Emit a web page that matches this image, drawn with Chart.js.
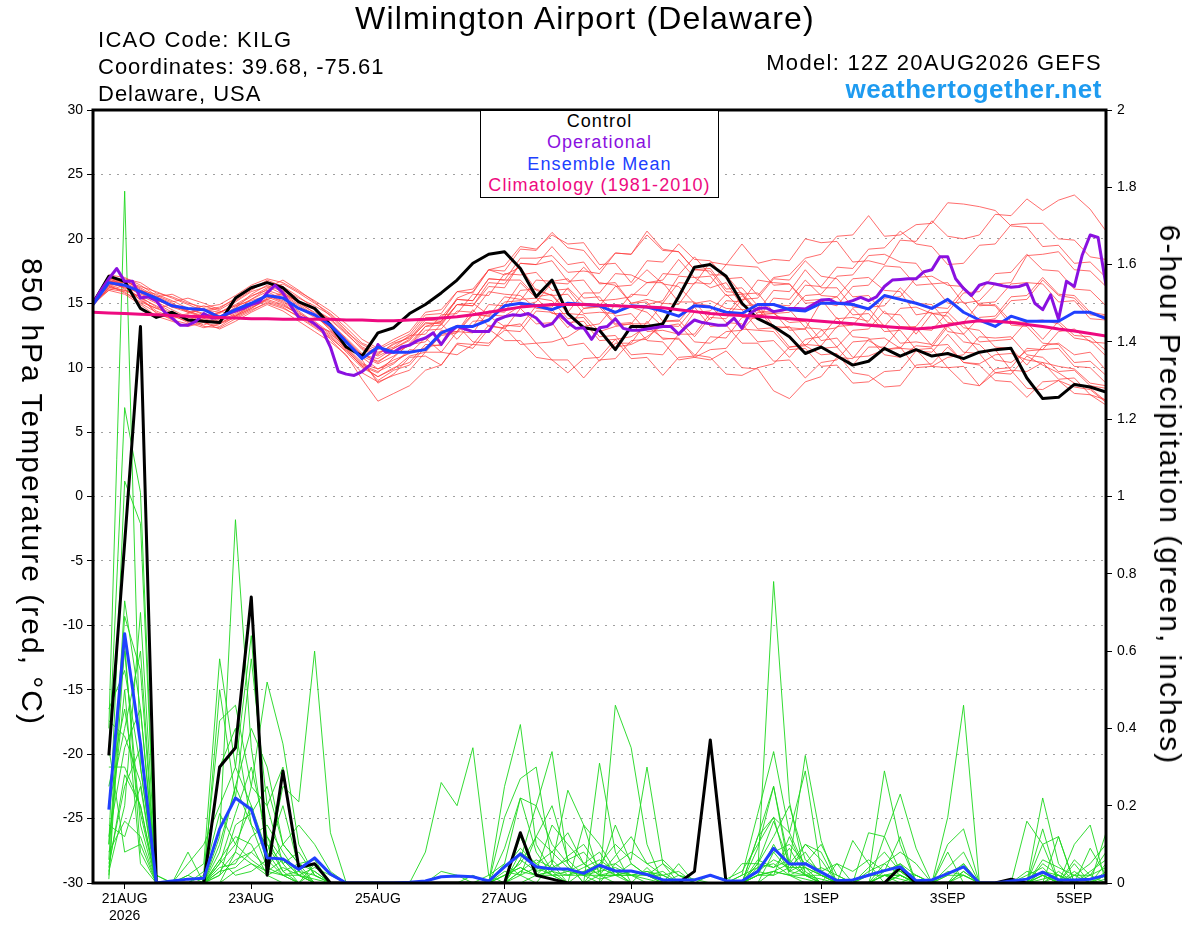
<!DOCTYPE html>
<html>
<head>
<meta charset="utf-8">
<script src="https://cdn.jsdelivr.net/npm/chart.js@4.4.1/dist/chart.umd.min.js"></script>
<style>
body { margin: 0; background: #fff; font-family: "Liberation Sans", Arial, sans-serif; }
#wrap { position: relative; width: 1200px; height: 927px; overflow: hidden; }
#c { position: absolute; left: 0; top: 0; }
.t { position: absolute; white-space: nowrap; line-height: 1; color: #000; letter-spacing: 1px; }
#legend { position: absolute; left: 480px; top: 110px; width: 237px; height: 86px; border: 1px solid #000; background: #fff; }
#legend div { position: absolute; left: 0; width: 100%; text-align: center; font-size: 18px; line-height: 1; letter-spacing: 1.1px; white-space: nowrap; }
.vt { position: absolute; white-space: nowrap; line-height: 1; font-size: 30px; letter-spacing: 2px; transform: translate(-50%, -50%) rotate(90deg); }
</style>
</head>
<body>
<div id="wrap">
  <canvas id="c" width="1200" height="927"></canvas>
  <div class="t" style="left:0;width:1170px;text-align:center;top:2px;font-size:32px;letter-spacing:1.2px">Wilmington Airport (Delaware)</div>
  <div class="t" style="left:98px;top:29px;font-size:22px;letter-spacing:1.3px">ICAO Code: KILG</div>
  <div class="t" style="left:98px;top:56px;font-size:22px">Coordinates: 39.68, -75.61</div>
  <div class="t" style="left:98px;top:83px;font-size:22px">Delaware, USA</div>
  <div class="t" style="right:98px;top:52px;font-size:22px;letter-spacing:1.3px">Model: 12Z 20AUG2026 GEFS</div>
  <div class="t" style="right:98px;top:76px;font-size:26px;font-weight:bold;color:#1e9bf0;letter-spacing:0.5px">weathertogether.net</div>
  <div id="legend">
    <div style="top:1px;color:#000">Control</div>
    <div style="top:22px;color:#8a10e0">Operational</div>
    <div style="top:44px;color:#2040ff">Ensemble Mean</div>
    <div style="top:65px;color:#ee0a80">Climatology (1981-2010)</div>
  </div>
  <div class="vt" style="left:32px;top:492px">850 hPa Temperature (red, °C)</div>
  <div class="vt" style="left:1170px;top:495px">6-hour Precipitation (green, inches)</div>
</div>
<script>
// x axis: forecast hours from 12Z 20AUG2026
var xTickHours = [12, 60, 108, 156, 204, 276, 324, 372];
var xTickLabels = [['21AUG', '2026'], '23AUG', '25AUG', '27AUG', '29AUG', '1SEP', '3SEP', '5SEP'];

// 850 hPa temperature, every 6 h (65 values)
var tempControl = [
  15.0,17.1,16.7,14.6,13.9,14.3,13.7,13.6,13.5,15.4,
  16.2,16.6,16.2,15.1,14.6,13.3,11.6,10.9,12.7,13.1,
  14.2,14.9,15.8,16.8,18.1,18.8,19.0,17.7,15.5,16.8,
  14.2,13.1,12.9,11.4,13.2,13.2,13.4,15.5,17.8,18.0,
  17.1,15.0,13.8,13.2,12.4,11.1,11.6,10.9,10.2,10.5,
  11.5,10.9,11.4,10.9,11.1,10.7,11.2,11.4,11.5,9.2,
  7.6,7.7,8.7,8.5,8.1];
var tempMean = [
  14.9,16.6,16.4,15.9,15.4,14.8,14.6,14.5,13.9,14.5,
  15.0,15.6,15.4,14.6,14.1,13.3,12.0,10.7,11.6,11.2,
  11.2,11.4,12.7,13.2,13.2,13.7,14.8,15.0,14.8,14.5,
  15.0,14.9,14.8,14.3,14.8,14.7,14.4,14.0,14.8,14.7,
  14.3,14.2,14.9,14.9,14.5,14.4,15.0,15.0,14.9,14.55,
  15.6,15.3,15.0,14.6,15.3,14.3,13.7,13.2,14.0,13.6,
  13.6,13.6,14.3,14.3,13.8];
var tempClim = [
  14.3,14.25,14.2,14.15,14.1,14.05,14.0,13.95,13.9,13.85,
  13.8,13.8,13.75,13.75,13.75,13.75,13.7,13.7,13.65,13.65,
  13.7,13.75,13.85,13.95,14.1,14.3,14.5,14.7,14.8,14.9,
  14.9,14.9,14.85,14.8,14.75,14.7,14.65,14.5,14.35,14.2,
  14.1,14.05,14.0,13.9,13.8,13.7,13.6,13.5,13.4,13.3,
  13.2,13.1,13.0,13.1,13.3,13.5,13.65,13.6,13.5,13.35,
  13.2,13.0,12.85,12.65,12.45];
// operational run, every 3 h (129 values)
var tempOper = [
  15.0,16.0,16.9,17.7,16.7,16.7,15.4,15.5,15.2,14.35,
  13.85,13.3,13.3,13.6,14.2,13.85,13.9,14.2,14.4,14.6,
  14.9,15.1,15.8,16.4,15.8,14.8,13.9,13.8,13.4,12.9,
  11.6,9.7,9.5,9.4,9.7,10.2,11.8,11.2,11.2,11.6,
  11.75,12.1,12.3,12.7,11.8,12.7,13.2,13.0,12.8,12.8,
  12.8,13.7,13.95,14.1,14.05,14.2,13.85,13.2,13.4,14.15,
  13.5,13.05,13.1,12.2,13.1,13.2,13.8,13.05,12.9,12.9,
  13.0,13.1,13.2,13.2,12.6,13.2,13.7,13.5,13.4,13.3,
  13.3,13.85,13.05,14.2,14.6,14.65,14.35,14.45,14.6,14.6,
  14.55,14.9,15.25,15.3,15.0,15.0,15.2,15.45,15.2,15.5,
  16.3,16.8,16.85,16.9,16.9,17.45,17.6,18.6,18.6,16.9,
  16.15,15.6,16.4,16.6,16.5,16.35,16.25,16.3,16.5,15.0,
  14.5,15.65,13.75,16.7,16.3,18.75,20.3,20.1,16.4];

// ensemble members, every 6 h
var tempMembers = [
  [15.0,16.9,16.4,15.2,14.6,14.9,14.3,13.9,14.2,15.1, 15.9,16.3,15.7,14.9,14.1,12.9,11.4,10.1,9.6,10.8, 11.9,13.2,13.6,15.4,15.9,17.6,17.2,17.8,16.0,15.6, 14.2,14.1,12.8,13.2,13.4,14.9,15.2,17.1,17.0,16.2, 16.6,14.8,14.9,13.2,13.1,13.0,15.1,15.5,16.9,17.0, 16.0,15.9,14.1,14.3,12.8,12.6,11.2,11.4,9.8,9.7, 10.4,10.1,9.9,8.8,8.6],
  [15.1,16.4,16.8,16.1,15.3,14.7,14.5,14.8,14.4,14.0, 14.6,15.4,15.8,15.1,14.5,13.7,12.6,11.5,11.0,11.9, 12.3,13.4,13.5,14.9,14.8,16.3,16.2,18.1,18.0,19.4, 18.0,18.2,16.5,16.6,15.0,15.3,15.0,16.6,16.5,18.2, 18.0,19.6,18.1,18.4,18.3,20.0,19.7,19.8,18.2,18.3, 18.0,19.9,19.8,21.4,20.2,20.0,20.3,21.9,21.8,23.1, 22.2,23.0,23.4,22.3,20.6],
  [14.9,16.2,16.0,15.5,14.2,13.8,14.1,13.5,13.2,14.0, 14.9,15.5,15.0,14.1,13.3,12.8,11.9,10.6,8.8,9.5, 10.8,10.9,10.2,11.9,11.8,13.3,13.0,14.6,13.4,13.5, 11.7,11.9,10.5,11.9,11.9,13.6,12.2,12.3,10.8,10.6, 11.3,10.0,9.9,8.2,7.6,8.9,9.3,10.8,10.7,12.2, 12.3,11.5,11.4,10.1,10.0,8.8,8.6,9.6,9.5,10.9, 10.2,9.6,8.8,8.4,7.4],
  [15.2,17.0,16.6,16.0,15.7,15.2,14.6,14.1,13.7,14.4, 15.3,16.1,16.5,15.8,15.0,14.2,13.1,11.9,11.4,12.0, 12.6,14.1,14.2,15.9,15.8,17.6,17.5,19.2,19.1,20.5, 19.3,19.1,17.6,18.9,18.8,20.6,19.2,19.0,17.6,17.5, 15.9,15.8,14.4,16.0,15.9,17.6,16.2,16.2,14.7,14.6, 13.2,14.6,14.7,14.2,14.0,12.6,13.9,14.0,15.5,15.6, 17.0,15.7,15.6,14.3,14.1],
  [15.0,16.6,16.2,15.8,15.1,14.5,13.9,13.6,13.4,13.9, 14.5,15.0,14.6,14.0,13.2,12.4,11.2,10.0,9.3,9.9, 10.9,11.2,12.5,12.7,14.1,14.0,15.5,15.3,15.4,14.2, 14.2,13.0,12.9,11.6,11.8,12.4,13.3,13.2,14.7,13.2, 13.3,11.9,11.9,10.5,10.6,9.2,10.4,10.6,12.0,12.1, 11.4,11.6,10.0,10.1,10.8,11.0,12.4,12.3,12.4,11.0, 10.8,9.7,9.8,8.6,8.4],
  [14.8,16.3,16.7,16.3,15.9,15.4,14.9,14.4,14.6,15.4, 16.2,16.7,16.1,15.4,14.8,14.1,12.9,11.6,11.1,11.8, 12.4,13.9,13.9,15.3,15.2,16.9,16.8,16.8,15.5,15.7, 14.3,15.8,15.8,17.3,17.2,16.6,16.6,15.1,15.1,13.7, 15.2,15.1,16.8,16.6,16.5,15.2,15.3,13.8,13.9,13.6, 15.4,15.5,17.0,17.1,16.4,16.3,14.8,14.9,13.6,13.5, 12.2,13.6,12.5,12.4,11.3],
  [15.0,16.1,15.9,15.0,14.3,13.7,13.4,13.8,14.3,14.8, 15.2,15.6,15.2,14.4,13.5,12.6,11.7,10.9,10.3,10.9, 11.8,12.0,13.4,12.2,13.6,13.7,15.1,15.2,16.8,16.7, 16.9,15.4,15.5,14.0,14.2,12.8,12.9,12.6,14.3,14.4, 15.7,14.5,14.6,13.0,13.2,11.7,12.9,13.1,14.6,13.4, 13.3,11.9,12.0,11.8,13.4,13.5,15.0,15.1,16.5,16.6, 16.5,15.1,15.2,13.8,13.7],
  [15.1,17.2,17.0,16.4,15.6,15.1,15.4,15.0,14.5,15.2, 16.0,16.8,16.3,15.5,14.6,13.5,12.2,11.0,10.5,11.2, 11.7,13.2,13.3,14.9,14.8,16.6,16.5,18.1,18.0,18.3, 16.7,16.8,15.2,15.3,15.5,16.6,16.8,18.4,17.0,17.1, 15.6,15.7,14.1,14.2,14.3,15.6,15.7,17.1,17.2,18.7, 18.8,18.2,18.1,16.5,16.6,15.0,15.2,16.5,16.6,18.7, 18.8,19.0,17.6,17.5,16.3],
  [14.9,16.0,15.7,14.9,14.0,13.6,13.2,13.5,13.0,13.6, 14.3,14.9,14.4,13.6,12.8,12.0,11.0,9.1,7.4,8.0, 8.6,9.8,10.2,11.8,11.5,13.0,12.1,12.1,10.8,10.6, 9.6,10.7,10.8,12.2,12.4,13.2,12.3,12.2,11.0,10.8, 9.5,9.4,10.0,10.3,11.6,11.7,11.0,11.1,9.6,9.4, 8.5,8.6,10.2,10.3,11.6,10.4,10.2,9.0,8.9,7.7, 8.9,9.0,8.5,8.3,7.3],
  [15.2,16.7,16.9,16.6,15.8,15.5,15.0,14.7,14.9,15.6, 16.4,16.9,16.6,15.9,15.2,14.4,13.4,12.2,11.5,12.2, 12.8,14.3,14.5,15.9,16.1,17.6,17.9,19.4,19.2,20.3, 19.6,19.7,18.0,18.1,16.6,18.3,18.2,19.6,18.4,18.3, 16.9,17.0,15.6,17.0,17.2,18.5,18.8,20.2,20.3,21.8, 20.2,20.3,21.1,21.2,22.8,22.7,22.5,22.2,21.0,20.9, 19.4,19.5,18.1,18.2,17.0],
  [15.0,16.5,16.3,15.4,14.8,14.2,13.8,13.3,13.9,14.7, 15.3,15.9,15.3,14.6,13.9,13.2,12.0,10.8,9.9,10.4, 11.2,11.5,12.6,12.8,14.2,14.0,13.2,13.4,11.9,12.0, 12.4,13.2,13.4,14.9,14.7,14.3,13.2,13.4,12.0,11.9, 12.8,12.9,14.3,14.2,13.5,13.6,12.1,12.3,10.8,10.9, 11.4,11.5,13.0,12.9,14.3,13.1,12.9,11.6,11.5,10.2, 11.7,11.9,11.0,11.2,9.8],
  [14.9,16.8,16.1,15.3,14.4,13.9,14.2,14.6,14.0,14.6, 15.7,16.4,15.9,15.0,14.3,13.4,12.3,11.1,10.4,11.3, 11.7,12.9,13.0,14.4,14.3,15.9,15.7,15.6,14.6,14.5, 13.1,14.6,14.8,16.3,16.4,17.6,16.5,16.3,15.0,14.8, 13.5,13.4,12.0,12.1,10.8,12.2,12.4,13.9,12.4,12.3, 11.0,10.8,11.7,11.6,13.2,12.0,11.8,10.6,10.4,11.3, 11.4,12.8,13.0,12.0,11.9],
  [15.1,16.0,16.4,15.9,15.3,14.8,14.4,13.9,13.6,14.2, 14.8,15.3,15.7,15.1,14.2,13.0,11.6,10.4,9.0,9.8, 10.2,11.6,11.8,13.3,13.2,14.9,14.8,16.6,15.4,15.2, 13.8,13.9,12.4,12.5,11.0,11.1,11.0,12.6,12.6,14.2, 14.1,15.6,14.4,14.3,12.9,13.0,11.5,11.6,10.2,11.6, 11.6,13.1,13.2,14.7,14.6,16.1,14.9,14.8,13.3,13.2, 11.9,11.8,10.4,10.5,9.4],
  [15.0,16.7,16.6,15.7,15.2,14.9,14.6,14.2,13.9,14.3, 15.0,15.6,15.1,14.3,13.4,12.2,10.9,9.6,8.9,9.4, 9.8,11.2,11.2,12.8,12.7,14.4,14.3,16.0,16.1,15.6, 15.7,14.2,14.3,14.2,15.7,15.6,17.3,17.2,18.6,17.2, 17.2,15.7,15.8,14.3,14.5,13.1,13.0,11.6,12.9,13.0, 14.4,13.2,13.1,11.7,11.8,10.4,10.3,11.0,11.1,10.6, 10.4,9.1,9.2,7.9,7.5],
  [14.8,16.2,16.5,15.6,15.0,14.3,13.7,13.2,13.1,13.8, 14.4,15.1,14.7,13.9,13.1,12.3,11.3,10.2,9.7,10.3, 11.4,11.3,12.9,12.8,14.5,13.2,13.1,11.8,11.9,10.6, 10.6,9.2,10.6,10.7,12.1,12.2,13.6,13.6,15.0,15.2, 14.6,14.5,13.0,13.1,11.6,11.8,11.7,13.2,13.3,14.7, 14.8,16.2,15.0,14.9,13.5,13.4,12.0,12.1,12.2,13.6, 13.7,13.4,12.3,12.1,10.9],
  [15.2,16.9,16.7,16.2,15.5,15.7,15.1,14.5,14.3,14.8, 15.5,16.2,16.8,16.0,15.1,14.0,12.8,11.8,11.2,11.6, 12.5,12.6,14.1,14.2,15.7,15.6,17.3,17.2,17.4,16.0, 16.1,14.6,14.7,13.3,13.4,13.4,15.0,14.9,16.6,16.5, 18.0,17.9,17.8,16.4,16.5,15.0,15.1,14.8,16.3,16.4, 17.9,17.8,16.4,16.5,15.0,15.1,13.6,13.8,15.2,15.3, 16.8,15.6,15.4,14.1,14.0],
  [15.0,16.4,15.8,15.1,14.6,14.1,13.5,13.1,13.4,14.1, 14.7,15.2,14.8,14.2,13.6,12.7,11.5,10.3,9.9,10.6, 11.1,12.3,11.2,11.0,11.8,11.7,13.3,13.2,14.8,14.7, 16.2,15.0,14.9,13.4,13.5,12.1,12.0,10.6,10.8,11.4, 11.5,13.0,12.9,12.8,11.4,11.5,10.1,10.2,8.8,8.9, 9.7,9.8,11.3,11.2,12.6,11.2,11.1,9.6,9.8,8.4, 8.3,9.0,8.0,7.9,7.1],
  [14.9,16.6,16.8,16.0,15.5,15.0,14.4,14.0,14.3,14.9, 15.6,16.0,15.6,14.8,14.0,13.1,12.0,11.0,10.7,11.5, 12.1,13.5,13.4,14.9,15.0,14.1,14.0,14.8,15.1,16.6, 16.5,17.8,16.6,16.4,15.0,15.1,13.6,13.7,12.4,13.9, 13.8,15.3,15.4,16.9,16.8,18.3,17.1,16.9,15.5,15.6, 14.2,14.1,12.6,14.2,14.3,15.8,15.9,17.3,17.4,18.8, 17.6,17.5,16.1,16.0,14.8],
  [15.1,16.3,16.0,15.5,14.7,14.0,13.6,13.8,13.5,14.0, 14.6,15.3,14.9,14.1,13.3,12.5,11.4,10.1,9.3,10.0, 10.4,11.8,11.7,13.3,12.0,11.9,12.9,12.8,14.4,14.3, 13.5,13.6,12.1,12.2,10.7,10.8,9.4,10.8,10.9,12.4, 12.3,13.9,13.8,15.4,15.3,16.8,15.6,15.5,14.1,14.2, 12.8,12.9,11.4,11.5,10.0,10.1,8.6,9.9,10.0,11.5, 11.4,11.5,10.1,10.0,8.8],
  [15.0,16.8,16.2,15.9,15.3,14.7,14.3,14.5,14.7,15.3, 16.1,16.6,16.0,15.2,14.5,13.8,12.7,11.4,10.9,11.5, 12.2,13.7,13.6,15.3,15.2,16.9,16.8,18.5,18.5,18.7, 17.4,17.5,17.3,18.9,18.8,20.3,19.1,19.0,17.6,17.7, 16.1,16.2,14.8,14.9,14.8,16.4,16.3,17.8,17.7,19.2, 19.3,20.6,19.6,19.4,18.0,18.1,19.5,19.6,21.1,21.2, 21.2,20.0,19.9,18.6,18.4]
];

// 6-hour precipitation (inches), every 6 h, none at analysis time
var precipControl = [
  null,0.33,0.88,1.44,0,0,0,0,0.30,0.35,
  0.74,0.02,0.29,0.04,0.05,0,0,0,0,0,
  0,0,0,0,0,0,0,0.13,0.02,0.01,
  0,0,0,0,0,0,0,0,0.03,0.37,
  0,0,0,0,0,0,0,0,0,0,
  0,0.04,0,0,0,0,0,0,0.01,0,
  0,0,0,0,0];
var precipMean = [
  null,0.19,0.645,0.36,0,0.005,0.01,0.012,0.14,0.22,
  0.19,0.065,0.062,0.035,0.065,0.023,0,0,0,0,
  0.002,0.005,0.016,0.018,0.016,0.005,0.042,0.075,0.042,0.036,
  0.036,0.025,0.046,0.031,0.031,0.022,0.008,0.008,0.008,0.02,
  0.006,0.005,0.03,0.09,0.049,0.05,0.028,0.006,0.008,0.02,
  0.032,0.042,0.006,0.008,0.024,0.042,0,0,0.005,0.01,
  0.028,0.008,0.008,0.01,0.02];
var precipMembers = [
  [null,0.40,1.79,0.30,0,0,0,0,0.12,0.94, 0.35,0.08,0.02,0,0,0,0,0,0,0, 0,0.08,0.26,0.20,0.35,0.02,0,0,0,0, 0,0,0,0.46,0.35,0.10,0,0,0,0, 0,0,0.03,0.78,0.21,0.02,0,0,0,0, 0,0,0,0,0,0.05,0,0,0,0, 0.22,0.05,0,0,0],
  [null,0.33,1.23,1.01,0,0,0.02,0.05,0.58,0.30, 0.64,0.10,0.03,0,0.05,0,0,0,0,0, 0,0,0,0,0.02,0,0.25,0.41,0.10,0.03, 0,0,0,0,0,0,0,0,0,0, 0,0.02,0.18,0.34,0.13,0.04,0,0,0,0.02, 0.29,0.10,0,0,0,0,0,0,0,0, 0,0.12,0,0,0.13],
  [null,0.10,1.04,0.93,0,0,0,0.03,0.42,0.46, 0.25,0.52,0.36,0.10,0.02,0,0,0,0,0, 0,0,0,0,0,0,0.17,0.27,0.30,0.05, 0,0,0.31,0.08,0,0,0,0,0,0, 0,0,0.12,0.25,0.05,0.33,0.11,0,0,0, 0,0,0,0,0.17,0.46,0,0,0,0, 0,0,0.10,0.15,0],
  [null,0.06,0.73,0.45,0.02,0,0,0,0.50,0.22, 0.58,0.20,0.05,0,0,0,0,0,0,0, 0,0,0,0,0,0,0.09,0.22,0.20,0.34, 0.05,0,0,0,0,0,0,0,0,0, 0,0,0.12,0.17,0.13,0.29,0.03,0,0,0, 0.12,0.23,0.09,0,0,0,0,0,0,0.16, 0.10,0,0,0,0],
  [null,0.02,0.69,0.55,0,0,0.05,0.10,0.20,0.30, 0.20,0.05,0.25,0.21,0.60,0.13,0,0,0,0, 0,0,0,0,0,0,0,0,0,0.05, 0.24,0.15,0.02,0,0,0,0,0,0,0, 0,0,0.09,0.25,0.03,0.10,0.08,0,0,0, 0,0,0,0,0.10,0.14,0,0,0,0, 0.14,0,0,0.09,0.02],
  [null,0.45,0.55,0.30,0,0,0,0,0.30,0.40, 0.15,0.04,0.10,0.05,0,0,0,0,0,0, 0,0,0,0,0,0.02,0.05,0.22,0.08,0.02, 0,0.15,0.10,0.03,0,0,0,0,0,0.02, 0.01,0.03,0.10,0.17,0.02,0,0,0,0.11,0.05, 0,0.02,0,0,0,0,0,0,0,0, 0.10,0.12,0,0,0],
  [null,0.25,0.45,0.18,0,0,0,0,0.10,0.25, 0.40,0.30,0.10,0.15,0.10,0.03,0,0,0,0, 0,0,0,0,0,0,0,0.12,0.03,0.15, 0.10,0.05,0.08,0.02,0,0,0,0.05,0,0, 0,0,0.05,0.12,0.20,0.06,0.03,0.05,0,0.13, 0.12,0.03,0,0,0,0,0,0,0,0, 0.02,0,0.06,0.02,0.08],
  [null,0.20,0.40,0.60,0,0,0.08,0,0.05,0.18, 0.30,0.12,0.06,0.02,0,0,0,0,0,0, 0,0,0,0,0,0,0,0.06,0.20,0.10, 0.05,0,0.05,0.10,0.06,0.30,0.05,0,0,0, 0,0,0,0.08,0.10,0.05,0.02,0,0,0, 0.05,0.08,0.05,0,0.08,0,0,0,0,0, 0,0,0,0,0],
  [null,0.12,0.35,0.45,0,0,0,0,0.02,0.15, 0.18,0.25,0.10,0.05,0.06,0,0,0,0,0, 0,0,0,0,0,0,0.04,0.09,0.05,0.08, 0.13,0.05,0.02,0.07,0.12,0.05,0.06,0.02,0,0, 0,0,0.05,0.04,0.09,0.02,0,0.05,0.03,0.06, 0.03,0.12,0,0,0,0.03,0,0,0,0, 0.06,0.04,0.02,0.05,0.10],
  [null,0.30,0.30,0.20,0,0,0,0,0,0.08, 0.25,0.20,0.30,0.03,0,0,0,0,0,0, 0,0,0.03,0.02,0,0,0.05,0.02,0.12,0.20, 0.06,0.08,0.03,0.15,0.05,0.02,0,0,0,0, 0,0,0,0.03,0.05,0.10,0.06,0,0,0, 0,0.05,0,0,0.04,0.08,0,0,0,0, 0.03,0,0,0,0.05],
  [null,0.05,0.25,0.35,0,0,0,0.02,0.18,0.10, 0.20,0.08,0.20,0.04,0,0,0,0,0,0, 0,0,0,0,0,0,0,0,0.02,0.03, 0.07,0.10,0.04,0.05,0.08,0.05,0.02,0.03,0,0, 0,0.02,0.04,0.08,0.03,0.05,0.10,0.02,0,0.04, 0.08,0.03,0,0,0,0,0,0,0,0.02, 0.04,0,0.03,0,0],
  [null,0.03,0.20,0.70,0.02,0,0,0,0.06,0.12, 0.10,0.02,0,0,0.03,0,0,0,0,0, 0,0,0,0,0,0,0,0.02,0,0, 0,0.03,0.05,0.02,0.03,0.02,0.05,0.02,0.01,0, 0,0.05,0.05,0.16,0.05,0.02,0,0,0,0, 0,0,0,0,0.02,0.05,0,0,0,0, 0,0.02,0,0,0.03],
  [null,0.08,0.16,0.12,0,0,0,0,0.08,0.25, 0.15,0.10,0.05,0.08,0.02,0,0,0,0,0, 0,0,0,0,0,0,0.02,0.05,0.12,0.08, 0.04,0.02,0,0.05,0.02,0,0,0,0,0, 0,0,0.02,0.02,0.12,0.03,0,0,0,0, 0,0.02,0,0,0,0,0,0,0,0, 0,0,0.05,0,0],
  [null,0.15,0.12,0.25,0,0,0,0,0.04,0.05, 0.12,0.15,0.08,0.02,0.04,0.02,0,0,0,0, 0,0,0,0,0,0,0.02,0.04,0.02,0.06, 0.02,0.04,0.06,0.03,0.02,0.03,0.02,0,0,0, 0,0,0.03,0.06,0.04,0.08,0.02,0.01,0,0.03, 0.05,0.02,0,0,0.03,0.02,0,0,0,0, 0.03,0.02,0,0.02,0.04],
  [null,0.20,0.60,0.15,0,0,0.02,0,0.02,0.06, 0.08,0.12,0.03,0.05,0.03,0,0,0,0,0, 0,0,0,0,0,0,0,0.08,0.05,0.02, 0,0,0.02,0.03,0,0.04,0,0,0,0, 0,0,0.02,0.03,0.02,0.02,0.04,0.02,0,0, 0.02,0,0.02,0,0,0.03,0,0,0,0, 0,0.03,0,0,0.02],
  [null,0.35,0.08,0.10,0,0,0,0,0.03,0.08, 0.05,0.03,0.06,0.02,0,0,0,0,0,0, 0,0,0,0,0,0,0,0.03,0.06,0.04, 0.03,0.05,0.02,0.02,0.05,0.02,0,0.02,0,0, 0,0,0.04,0.05,0.02,0.04,0.02,0,0,0, 0.03,0.05,0.02,0,0,0,0,0,0,0.03, 0.02,0,0.02,0,0],
  [null,0.10,0.50,0.05,0,0,0,0,0,0.03, 0.05,0.02,0.04,0.02,0,0,0,0,0,0, 0,0,0,0,0,0,0.03,0.02,0.04,0.02, 0.02,0.03,0.01,0.02,0.02,0.02,0.03,0,0,0, 0,0,0.02,0.10,0.03,0.02,0.01,0,0,0, 0.02,0.02,0,0,0,0,0,0,0,0, 0.02,0,0.02,0.02,0],
  [null,0.04,0.28,0.20,0,0,0,0,0.03,0.04, 0.08,0.04,0.02,0.03,0.02,0,0,0,0,0, 0,0,0,0,0,0,0,0.06,0.03,0.04, 0.06,0.02,0.03,0.04,0.02,0.03,0.01,0,0,0, 0,0,0.06,0.04,0.06,0.02,0.02,0,0,0, 0.02,0.03,0.02,0,0.02,0.02,0,0,0,0, 0.05,0.02,0,0.03,0.06],
  [null,0.01,0.62,0.08,0,0,0,0,0.06,0.02, 0.03,0.06,0.02,0.02,0.01,0,0,0,0,0, 0,0,0,0,0,0,0,0.03,0.02,0.02, 0.03,0.02,0.04,0.02,0.03,0.02,0.02,0,0,0, 0,0,0.03,0.02,0.04,0.04,0.02,0,0,0.02, 0.02,0.02,0,0,0,0.02,0,0,0,0, 0.02,0,0,0,0.02],
  [null,0.42,0.38,0.26,0,0,0,0,0.05,0.10, 0.06,0.03,0.02,0,0,0,0,0,0,0, 0,0,0,0,0,0,0.02,0.04,0.02,0.03, 0.02,0.02,0.02,0.02,0.02,0.01,0,0,0,0, 0,0,0.02,0.03,0.02,0.01,0,0,0,0, 0.02,0.01,0,0,0,0,0,0,0,0, 0.01,0.02,0,0,0.01]
];

var FONT = '"Liberation Sans", Arial, sans-serif';

function toPoints(values, stepHours) {
    return values.map(function(v, i) { return { x: i * stepHours, y: v }; });
}

function serie(values, step, color, width, axis) {
    return {
        data: toPoints(values, step),
        borderColor: color,
        borderWidth: width,
        yAxisID: axis,
        pointRadius: 0,
        fill: false
    };
}

// first dataset is drawn on top
var datasets = [];
datasets.push(serie(tempClim, 6, '#ee0a80', 3, 'y'));
datasets.push(serie(tempMean, 6, '#2040ff', 3, 'y'));
datasets.push(serie(tempOper, 3, '#8a10e0', 3, 'y'));
datasets.push(serie(tempControl, 6, '#000000', 3, 'y'));
datasets.push(serie(precipMean, 6, '#2040ff', 3, 'y2'));
datasets.push(serie(precipControl, 6, '#000000', 3, 'y2'));
tempMembers.forEach(function(m) { datasets.push(serie(m, 6, 'rgba(255,60,60,0.75)', 1, 'y')); });
precipMembers.forEach(function(m) { datasets.push(serie(m, 6, 'rgba(30,215,30,0.9)', 1, 'y2')); });

var framePlugin = {
    id: 'frame',
    afterDraw: function(chart) {
        var a = chart.chartArea, ctx = chart.ctx;
        ctx.save();
        ctx.strokeStyle = '#000';
        ctx.lineWidth = 3;
        ctx.strokeRect(a.left, a.top, a.right - a.left, a.bottom - a.top);
        ctx.restore();
    }
};

new Chart(document.getElementById('c').getContext('2d'), {
    type: 'line',
    data: { datasets: datasets },
    plugins: [framePlugin],
    options: {
        responsive: false,
        animation: false,
        devicePixelRatio: 1,
        layout: { padding: { top: 110 } },
        plugins: { legend: { display: false }, tooltip: { enabled: false } },
        elements: { line: { tension: 0, borderJoinStyle: 'round' }, point: { radius: 0 } },
        scales: {
            x: {
                type: 'linear',
                min: 0,
                max: 384,
                afterBuildTicks: function(scale) {
                    scale.ticks = xTickHours.map(function(h) { return { value: h }; });
                },
                afterFit: function(scale) { scale.height = 44; },
                ticks: {
                    autoSkip: false,
                    maxRotation: 0,
                    color: '#000',
                    padding: 2,
                    font: { family: FONT, size: 14 },
                    callback: function(v, i) { return xTickLabels[i]; }
                },
                grid: { drawOnChartArea: false, tickLength: 6, tickColor: '#000', tickWidth: 1 },
                border: { display: false }
            },
            y: {
                position: 'left',
                min: -30,
                max: 30,
                afterFit: function(scale) { scale.width = 93; },
                ticks: { stepSize: 5, color: '#000', padding: 4, font: { family: FONT, size: 14 } },
                grid: { color: '#a0a0a0', lineWidth: 1, tickColor: '#000', tickLength: 6, tickBorderDash: [] },
                border: { display: false, dash: [2, 6] }
            },
            y2: {
                position: 'right',
                min: 0,
                max: 2,
                afterFit: function(scale) { scale.width = 94; },
                ticks: {
                    stepSize: 0.2,
                    color: '#000',
                    padding: 5,
                    font: { family: FONT, size: 14 },
                    callback: function(v) { return String(Number(v.toFixed(1))); }
                },
                grid: { drawOnChartArea: false, tickColor: '#000', tickLength: 6 },
                border: { display: false }
            }
        }
    }
});
</script>
</body>
</html>
